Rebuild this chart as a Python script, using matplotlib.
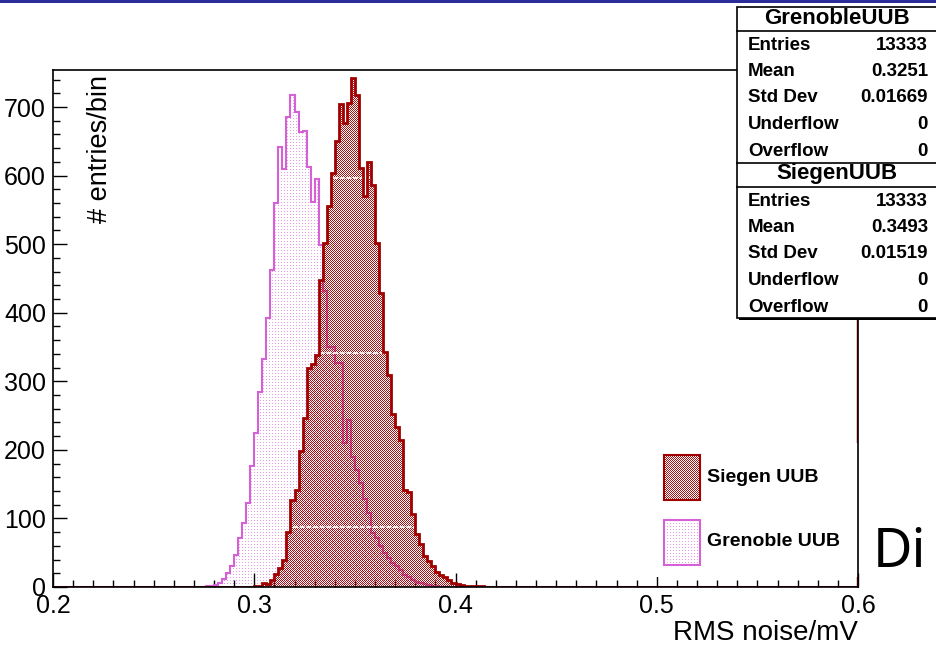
"""
RMS noise histogram - Siegen UUB vs Grenoble UUB (ROOT style)
"""
import matplotlib
matplotlib.use("Agg")
import matplotlib.pyplot as plt
import numpy as np
from matplotlib.patches import Rectangle
from matplotlib.lines import Line2D
from matplotlib.ticker import MultipleLocator, FormatStrFormatter
from matplotlib.colors import to_rgba

plt.rcParams['font.family'] = ['Liberation Sans', 'DejaVu Sans']

# binning: 200 bins of 0.002 mV between 0.2 and 0.6
x_min, x_max, bin_w = 0.2, 0.6, 0.002
n_bins = 200
edges = np.linspace(x_min, x_max, n_bins + 1)

# counts per bin, starting at the given low edge
grenoble_first_bin = 0.276
grenoble_counts = [1, 2, 3, 6, 12, 20, 30, 47, 72, 94, 122, 176, 225, 284, 332, 392,
                   462, 560, 642, 610, 685, 717, 693, 664, 665, 613, 561, 595, 499,
                   431, 350, 350, 326, 326, 210, 243, 190, 171, 152, 128, 108, 79,
                   72, 60, 50, 42, 35, 30, 25, 18, 14, 10, 8, 6, 5, 3, 2, 1]

siegen_first_bin = 0.300
siegen_counts = [1, 2, 6, 4, 10, 19, 28, 40, 80, 127, 141, 198, 246, 319, 325, 338,
                 448, 501, 555, 604, 650, 704, 677, 706, 743, 717, 611, 570, 620,
                 586, 501, 429, 343, 309, 253, 234, 214, 141, 138, 107, 78, 62, 45,
                 38, 31, 22, 18, 14, 10, 6, 4, 3, 2, 2, 1, 1, 1]

stat_names = ["Entries", "Mean", "Std Dev", "Underflow", "Overflow"]
grenoble_stats = ["13333", "0.3251", "0.01669", "0", "0"]
siegen_stats = ["13333", "0.3493", "0.01519", "0", "0"]

y_top = 754

SIEGEN_RED = "#a81212"
SIEGEN_LINE = "#a00000"
GRENOBLE_LINE = "#d660d6"
GRENOBLE_DOT = "#eb9beb"


def fill_bins(first, counts):
    h = np.zeros(n_bins)
    i0 = int(round((first - x_min) / bin_w))
    h[i0:i0 + len(counts)] = counts
    return h


def pattern(shape, kind):
    ny, nx = shape
    ii, jj = np.mgrid[0:ny, 0:nx]
    img = np.zeros((ny, nx, 4))
    if kind == "siegen":
        gap = (ii + jj) % 2 == 0
        img[~gap] = to_rgba(SIEGEN_RED)
    else:
        dots = (ii % 3 == 0) & (jj % 3 == 0)
        img[dots] = to_rgba(GRENOBLE_DOT)
    return img


W, H = 936, 651
fig = plt.figure(figsize=(W / 100, H / 100), dpi=100)


def fx(px):
    return px / W


def fy(py):
    return 1 - py / H


h_gre = fill_bins(grenoble_first_bin, grenoble_counts)
h_sie = fill_bins(siegen_first_bin, siegen_counts)

ax = fig.add_axes([fx(53), fy(587), fx(858) - fx(53), fy(70) - fy(587)])
ax.set_xlim(x_min, x_max)
ax.set_ylim(0, y_top)

# Grenoble: dotted fill + outline
gre_clip = ax.stairs(h_gre, edges, fill=True, facecolor="none", edgecolor="none")
im = ax.imshow(pattern((517, 805), "grenoble"), extent=(x_min, x_max, 0, y_top),
               aspect="auto", interpolation="nearest", zorder=1)
im.set_clip_path(gre_clip)
ax.stairs(h_gre, edges, color=GRENOBLE_LINE, lw=1.5, zorder=2)

# Siegen: checkered fill (transparent gaps) + outline
sie_clip = ax.stairs(h_sie, edges, fill=True, facecolor="none", edgecolor="none")
im2 = ax.imshow(pattern((517, 805), "siegen"), extent=(x_min, x_max, 0, y_top),
                aspect="auto", interpolation="nearest", zorder=3)
im2.set_clip_path(sie_clip)
# pattern tile seams seen in the original fill
seams = ax.hlines([87, 341, 596], x_min, x_max, color="white", lw=1.2,
                  linestyles=(0, (3, 1)), zorder=3.5)
seams.set_clip_path(sie_clip)
ax.stairs(h_sie, edges, color=SIEGEN_LINE, lw=2, zorder=4)
ax.axvline(x_max, color="#d40000", lw=2.5, zorder=4)

ax.xaxis.set_major_locator(MultipleLocator(0.1))
ax.xaxis.set_minor_locator(MultipleLocator(0.01))
ax.yaxis.set_major_locator(MultipleLocator(100))
ax.yaxis.set_minor_locator(MultipleLocator(20))
ax.tick_params(which="both", direction="in", width=1, labelsize=18, pad=5)
ax.tick_params(which="major", length=10)
ax.tick_params(which="minor", length=5)
ax.xaxis.set_major_formatter(FormatStrFormatter("%g"))
ax.yaxis.set_major_formatter(FormatStrFormatter("%d"))
for s in ax.spines.values():
    s.set_linewidth(1.2)
    s.set_zorder(6)

# titles (ROOT style: right / top aligned)
fig.text(fx(858), fy(633), "RMS noise/mV", ha="right", va="center", fontsize=20)
fig.text(fx(100), fy(75), "# entries/bin", ha="center", va="top", rotation=90,
         fontsize=19.5)

# legend (white box, no border), swatches drawn inside the main axes
ax.add_patch(Rectangle((fx(650), fy(577)), fx(858) - fx(650), fy(443) - fy(577),
                       transform=fig.transFigure, facecolor="white", edgecolor="none",
                       zorder=5, clip_on=False))
to_data = ax.transData.inverted()
for kind, label, top, line in [("siegen", "Siegen UUB", 455, SIEGEN_LINE),
                               ("grenoble", "Grenoble UUB", 520, GRENOBLE_LINE)]:
    (x0, y0) = to_data.transform((664, H - (top + 45)))
    (x1, y1) = to_data.transform((700, H - top))
    sw = ax.imshow(pattern((45, 36), kind), extent=(x0, x1, y0, y1), aspect="auto",
                   interpolation="nearest", zorder=5.5)
    ax.add_patch(Rectangle((x0, y0), x1 - x0, y1 - y0, facecolor="none",
                           edgecolor=line, lw=1.5, zorder=5.6))
    fig.text(fx(707), fy(top + 22), label, ha="left", va="center", fontsize=14,
             fontweight="bold")
ax.set_xlim(x_min, x_max)
ax.set_ylim(0, y_top)

# stats boxes
fig.add_artist(Rectangle((fx(739), fy(320)), fx(940) - fx(739), fy(7) - fy(320),
                         transform=fig.transFigure, facecolor="black", edgecolor="none"))
fig.add_artist(Rectangle((fx(737), fy(318)), fx(940) - fx(737), fy(7) - fy(318),
                         transform=fig.transFigure, facecolor="white", edgecolor="black",
                         lw=1.2))
for y in (31, 163, 187):
    fig.add_artist(Line2D([fx(737), fx(940)], [fy(y), fy(y)], color="black", lw=1.2))

for title, vals, y0 in [("GrenobleUUB", grenoble_stats, 18),
                        ("SiegenUUB", siegen_stats, 174)]:
    fig.text(fx(837), fy(y0), title, ha="center", va="center", fontsize=16,
             fontweight="bold")
    for k, (name, v) in enumerate(zip(stat_names, vals)):
        yy = y0 + 27 + 26.5 * k
        fig.text(fx(748), fy(yy), name, ha="left", va="center", fontsize=13.5,
                 fontweight="bold")
        fig.text(fx(928), fy(yy), v, ha="right", va="center", fontsize=13.5,
                 fontweight="bold")

# slide remnants: blue bar on top, clipped word at the right
fig.add_artist(Rectangle((0, fy(3)), 1, 3 / H, transform=fig.transFigure,
                         facecolor="#2c2c9c", edgecolor="none"))
fig.text(fx(873), fy(567), "Di", ha="left", va="baseline", fontsize=39,
         family=["Noto Sans", "DejaVu Sans"])

plt.savefig("out.png", dpi=100)
plt.close()
